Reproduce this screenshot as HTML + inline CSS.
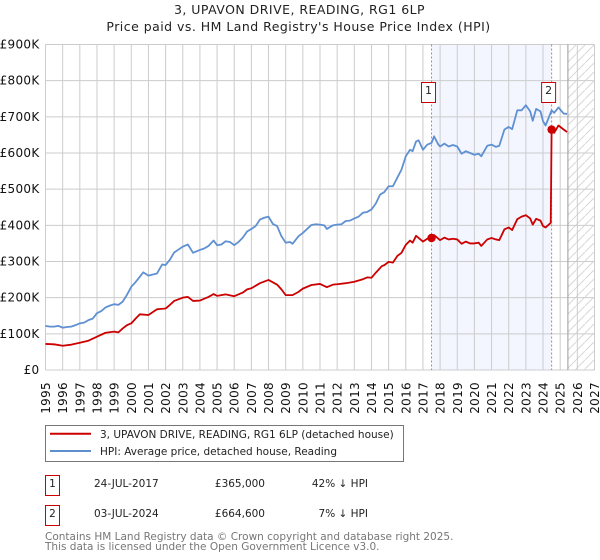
<!DOCTYPE html>
<html lang="en">
<head>
<meta charset="utf-8">
<title>3, UPAVON DRIVE, READING, RG1 6LP</title>
<style>
html,body{margin:0;padding:0;background:#fff;}
svg{display:block;font-family:"DejaVu Sans","Liberation Sans",sans-serif;}
</style>
</head>
<body>
<svg id="chart" width="600" height="560" viewBox="0 0 600 560" xmlns="http://www.w3.org/2000/svg">
<defs>
<pattern id="hatch" patternUnits="userSpaceOnUse" width="9" height="9">
<path d="M-1 10L10 -1" stroke="#d8d8d8" stroke-width="1" fill="none"/>
</pattern>
</defs>
<text x="299.5" y="14" text-anchor="middle" font-size="12.5" letter-spacing="0.47" fill="#222">3, UPAVON DRIVE, READING, RG1 6LP</text>
<text x="298.5" y="31" text-anchor="middle" font-size="12.5" letter-spacing="0.47" fill="#222">Price paid vs. HM Land Registry's House Price Index (HPI)</text>
<g id="plot"></g>
<g>
<rect x="45.5" y="425.5" width="358" height="36" fill="#fff" stroke="#777" stroke-width="1"/>
<line x1="50" x2="91" y1="433.7" y2="433.7" stroke="#cc0000" stroke-width="2"/>
<text x="100" y="438" font-size="10.5" fill="#222">3, UPAVON DRIVE, READING, RG1 6LP (detached house)</text>
<line x1="50" x2="91" y1="451" y2="451" stroke="#5b8fd0" stroke-width="2"/>
<text x="100" y="455" font-size="10.5" fill="#222">HPI: Average price, detached house, Reading</text>
</g>
<g font-size="10.5" fill="#222">
<rect x="45.5" y="475.5" width="14" height="20" fill="#fff" stroke="#cc0000"/>
<text x="52.5" y="487" text-anchor="middle">1</text>
<text x="94" y="487">24-JUL-2017</text>
<text x="265" y="487" text-anchor="end">£365,000</text>
<text x="368" y="487" text-anchor="end">42% ↓ HPI</text>
<rect x="45.5" y="505.5" width="14" height="20" fill="#fff" stroke="#cc0000"/>
<text x="52.5" y="517" text-anchor="middle">2</text>
<text x="94" y="517">03-JUL-2024</text>
<text x="265" y="517" text-anchor="end">£664,600</text>
<text x="368" y="517" text-anchor="end">7% ↓ HPI</text>
</g>
<text x="45" y="540" font-size="10.5" fill="#777">Contains HM Land Registry data © Crown copyright and database right 2025.</text>
<text x="45" y="550" font-size="10.5" fill="#777">This data is licensed under the Open Government Licence v3.0.</text>
<script>
var yTicks = [0, 100, 200, 300, 400, 500, 600, 700, 800, 900];
var yTickLabels = ['£0', '£100K', '£200K', '£300K', '£400K', '£500K', '£600K', '£700K', '£800K', '£900K'];
var xTicks = [1995,1996,1997,1998,1999,2000,2001,2002,2003,2004,2005,2006,2007,2008,2009,2010,2011,2012,2013,2014,2015,2016,2017,2018,2019,2020,2021,2022,2023,2024,2025,2026,2027];
var hpiDates = [1995,1995.25,1995.5,1995.75,1996,1996.25,1996.5,1996.75,1997,1997.25,1997.5,1997.75,1998,1998.25,1998.5,1998.75,1999,1999.25,1999.5,1999.75,2000,2000.25,2000.5,2000.7,2001,2001.5,2001.8,2002,2002.25,2002.5,2002.75,2003,2003.3,2003.6,2004,2004.25,2004.5,2004.8,2005,2005.25,2005.5,2005.75,2006,2006.25,2006.5,2006.75,2007,2007.25,2007.5,2007.75,2008,2008.25,2008.5,2008.75,2009,2009.25,2009.4,2009.75,2010,2010.25,2010.5,2010.75,2011,2011.25,2011.4,2011.75,2012,2012.25,2012.5,2012.75,2013,2013.25,2013.5,2013.75,2014,2014.25,2014.5,2014.75,2015,2015.25,2015.5,2015.75,2016,2016.25,2016.4,2016.6,2016.75,2017,2017.25,2017.5,2017.65,2017.9,2018,2018.25,2018.5,2018.75,2019,2019.25,2019.5,2019.75,2020,2020.25,2020.4,2020.75,2021,2021.25,2021.45,2021.75,2022,2022.2,2022.5,2022.75,2023,2023.25,2023.4,2023.6,2023.85,2024,2024.15,2024.5,2024.65,2024.9,2025.2,2025.4];
var hpiValues = [122,120,120,122,117,119,120,124,129,131,138,142,157,163,173,178,182,180,189,208,230,243,258,270,261,267,292,290,305,325,333,341,347,324,332,336,343,358,345,347,356,354,345,354,366,383,390,398,416,421,424,404,398,370,352,354,349,370,379,390,401,403,402,400,390,400,402,403,412,413,419,424,435,437,444,460,485,492,508,508,531,554,591,609,605,632,635,609,623,628,646,623,618,626,618,622,618,598,605,600,595,598,591,620,623,617,620,665,672,666,718,718,732,715,689,722,715,688,676,718,711,726,709,708];
var priceDates = [1995,1995.5,1996,1996.5,1997,1997.5,1998,1998.5,1999,1999.25,1999.5,1999.75,2000,2000.25,2000.5,2001,2001.5,2002,2002.25,2002.5,2003,2003.3,2003.6,2004,2004.5,2004.8,2005,2005.5,2006,2006.5,2006.75,2007,2007.5,2008,2008.5,2008.75,2009,2009.4,2009.75,2010,2010.5,2011,2011.4,2011.75,2012,2012.5,2013,2013.5,2013.75,2014,2014.25,2014.6,2014.75,2015,2015.25,2015.5,2015.75,2016,2016.25,2016.4,2016.6,2017,2017.25,2017.5,2017.65,2018,2018.25,2018.5,2018.75,2019,2019.25,2019.5,2019.75,2020,2020.25,2020.4,2020.75,2021,2021.25,2021.45,2021.75,2022,2022.2,2022.5,2022.75,2023,2023.25,2023.4,2023.6,2023.85,2024,2024.15,2024.45,2024.5,2024.65,2024.9,2025.2,2025.4];
var priceValues = [72,71,67,70,75.5,81,92,103,106,104,115,124,129,142,154,152,168,170,180,191,200,202,191,192,202,210,205,209,204,214,223,226,240,249,236,223,207,207,216,225,235,238,229,236,237,240,244,251,256,255,269,287,290,299,297,315,324,346,358,352,371,355,363,365,373,359,366,361,363,361,349,355,350,350,352,343,361,365,361,359,389,394,387,417,424,428,419,402,418,413,398,394,407,664.6,656,676,665,658];
var saleDates = [2017.5, 2024.5];
var saleValues = [365, 664.6];
var saleLabels = ['1', '2'];
var forecastStart = [2025.45];

var NS = 'http://www.w3.org/2000/svg';
var plot = document.getElementById('plot');
var X0 = 45.5, X1 = 594.5, Y0 = 370, Y1 = 44.5;
function xScale(t) { return X0 + (t - 1995) * (X1 - X0) / 32; }
function yScale(v) { return Y0 - v * (Y0 - Y1) / 900; }
function make(tag, attrs, parent) {
  var el = document.createElementNS(NS, tag);
  for (var k in attrs) el.setAttribute(k, attrs[k]);
  (parent || plot).appendChild(el);
  return el;
}
function linePath(xs, ys) {
  var d = '';
  for (var i = 0; i < xs.length; i++) {
    d += (i ? 'L' : 'M') + xScale(xs[i]).toFixed(2) + ' ' + yScale(ys[i]).toFixed(2);
  }
  return d;
}

var band = make('rect', {x: xScale(saleDates[0]), y: Y1, width: xScale(saleDates[1]) - xScale(saleDates[0]), height: Y0 - Y1, fill: '#f3f6ff'});



var hatch = make('rect', {x: xScale(forecastStart[0]), y: Y1, width: X1 - xScale(forecastStart[0]), height: Y0 - Y1, fill: 'url(#hatch)'});



yTicks.forEach(function (v, i) {
  var g = make('line', {x1: X0, x2: X1, y1: yScale(v), y2: yScale(v), stroke: '#ccc', 'stroke-width': 1});
  
  
  var t = make('text', {x: 39.5, y: yScale(v) + 4, 'text-anchor': 'end', 'font-size': 12, 'letter-spacing': 0.3, fill: '#111'});
  
  
  t.textContent = yTickLabels[i];
});

xTicks.forEach(function (yr) {
  var x = xScale(yr);
  var g = make('line', {x1: x, x2: x, y1: Y1, y2: Y0, stroke: '#ccc', 'stroke-width': 1});
  
  
  var t = make('text', {x: 0, y: 0, 'text-anchor': 'end', 'font-size': 12, 'letter-spacing': 0.3, fill: '#111', transform: 'translate(' + (x + 4.5) + ',' + 382 + ') rotate(-90)'});
  
  
  t.textContent = yr;
});

var fcLine = make('line', {x1: xScale(forecastStart[0]), x2: xScale(forecastStart[0]), y1: Y1, y2: Y0, stroke: '#999', 'stroke-width': 1});



saleDates.forEach(function (d) {
  var l = make('line', {x1: xScale(d), x2: xScale(d), y1: Y1, y2: Y0, stroke: '#e87070', 'stroke-width': 1, 'stroke-dasharray': '2 2'});
  
  
});

var hpiLine = make('path', {d: linePath(hpiDates, hpiValues), fill: 'none', stroke: '#5f90d2', 'stroke-width': 1.8, 'stroke-linejoin': 'round'});



var priceLine = make('path', {d: linePath(priceDates, priceValues), fill: 'none', stroke: '#cc0000', 'stroke-width': 1.8, 'stroke-linejoin': 'round'});



saleDates.forEach(function (d, i) {
  var c = make('circle', {cx: xScale(d), cy: yScale(saleValues[i]), r: 4.2, fill: '#cc0000'});
  
  
  var r = make('rect', {x: xScale(d) - 10, y: 82.5, width: 14, height: 20, fill: '#fff', stroke: '#cc0000', 'stroke-width': 1});
  
  
  var t = make('text', {x: xScale(d) - 3, y: 94, 'text-anchor': 'middle', 'font-size': 11, fill: '#222'});
  
  
  t.textContent = saleLabels[i];
});
</script>
</svg>
</body>
</html>
